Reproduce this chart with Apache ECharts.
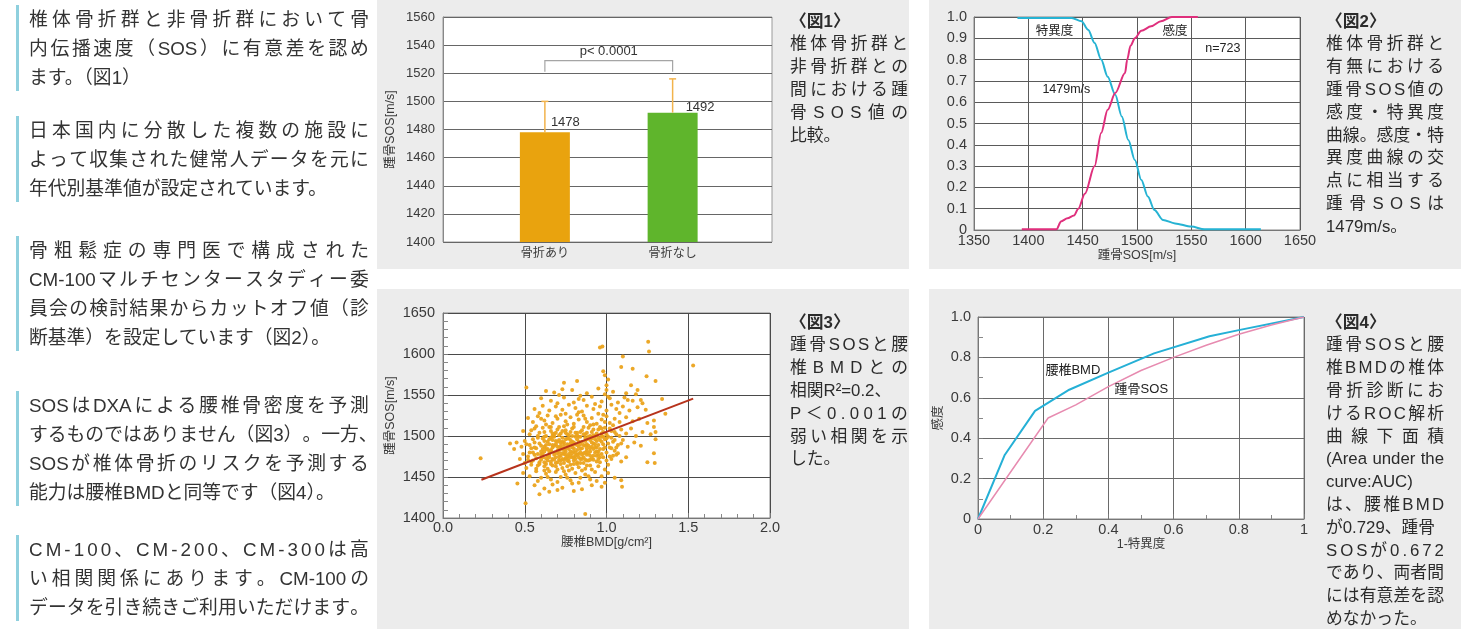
<!DOCTYPE html>
<html><head><meta charset="utf-8">
<script src="https://cdn.jsdelivr.net/npm/echarts@6/dist/echarts.min.js"></script>
<style>
html,body{margin:0;padding:0;width:1461px;height:629px;overflow:hidden;background:#fff;}
.panel{position:absolute;background:#ececec;}
#chart{position:absolute;left:0;top:0;width:1461px;height:629px;}
.ln{position:absolute;white-space:nowrap;font-family:'Liberation Sans','Noto Sans CJK JP',sans-serif;color:#333;}
.j{display:flex;justify-content:space-between;}
.j span{white-space:pre;}
.vbar{position:absolute;left:16px;width:3px;background:#8fd0de;}
</style></head><body>
<div class="panel" style="left:377px;top:0;width:532px;height:269px"></div>
<div class="panel" style="left:929px;top:0;width:532px;height:269px"></div>
<div class="panel" style="left:377px;top:289px;width:532px;height:340px"></div>
<div class="panel" style="left:929px;top:289px;width:532px;height:340px"></div>
<div id="chart"></div>
<div id="txt"></div>
<script>
// ---------- DATA ----------
const fig1Cats = ['骨折あり', '骨折なし'];
const fig1Means = [1478, 1492];
const fig1ErrTop = [1500, 1516];
const fig1Bracket = [1521, 1529];
const fig1PText = 'p< 0.0001';

const fig2SpecX = [1390,1440,1449,1455,1461,1467,1473,1480,1486,1492,1498,1504,1510,1516,1524,1535,1550,1562,1614];
const fig2SpecY = [0.995,0.995,0.98,0.94,0.878,0.80,0.72,0.635,0.533,0.423,0.329,0.235,0.157,0.094,0.047,0.031,0.016,0.003,0.003];
const fig2SensX = [1394,1426,1430,1436,1442,1446,1452,1461,1467,1473,1480,1489,1491,1494,1498,1504,1513,1522,1532,1556];
const fig2SensY = [0.003,0.003,0.04,0.055,0.068,0.10,0.17,0.30,0.455,0.564,0.643,0.737,0.80,0.865,0.90,0.935,0.956,0.98,1.0,1.0];
const fig2Notes = ['特異度', '感度', 'n=723', '1479m/s'];
const fig2NoteX = [1424, 1535, 1579, 1435];
const fig2NoteY = [0.932, 0.932, 0.854, 0.658];

const fig3Points = [
[0.23,1473],[0.41,1491],[0.435,1484],[0.455,1442],[0.51,1559],[0.505,1418],[0.59,1429],[0.96,1608],[0.975,1609],[1.255,1615],
[1.26,1603],[1.53,1586],[1.1,1597],[1.09,1584],[1.16,1582],[1.245,1573],[1.3,1567],[0.98,1579],[0.99,1574],[1.01,1569],
[0.82,1567],[0.74,1565],[0.73,1557],[1.09,1446],[1.095,1438],[0.97,1438],[0.87,1405],[0.7,1434],[1.25,1468],[1.295,1467],
[1.29,1479],[1.3,1496],[1.3,1505],[1.29,1511],[1.29,1519],[1.36,1527],[1.34,1545],[1.21,1544],[1.19,1556],[1.15,1562],
[1.13,1544],[0.83,1545],[1.0,1562],[1.0,1556],[0.99,1551],[1.01,1548],
[0.63,1555],[0.68,1553],[0.79,1556],[0.88,1552],[0.95,1558],[1.04,1554],[1.12,1552],[0.71,1550],[0.84,1549],[1.18,1551],
[0.6,1546],[0.66,1543],[0.74,1547],[0.8,1541],[0.86,1544],[0.91,1548],[0.97,1542],[1.02,1546],[1.07,1541],[1.11,1547],
[1.16,1543],[1.22,1540],[0.7,1540],[0.93,1539],
[0.56,1533],[0.61,1537],[0.65,1531],[0.69,1536],[0.73,1532],[0.77,1538],[0.81,1534],[0.85,1530],[0.88,1537],[0.92,1533],
[0.96,1536],[1.0,1531],[1.03,1538],[1.06,1533],[1.1,1536],[1.14,1531],[1.19,1535],[1.24,1532],[0.59,1528],[0.75,1527],
[0.83,1529],[0.98,1526],[1.08,1528],
[0.52,1522],[0.55,1517],[0.58,1524],[0.62,1519],[0.64,1525],[0.67,1516],[0.7,1521],[0.72,1526],[0.75,1518],[0.78,1523],
[0.8,1515],[0.83,1520],[0.86,1525],[0.88,1517],[0.91,1522],[0.94,1515],[0.97,1520],[1.0,1524],[1.02,1516],[1.05,1521],
[1.08,1517],[1.12,1523],[1.16,1518],[1.2,1521],[1.25,1516],[0.74,1512],[0.66,1511],
[0.49,1506],[0.53,1502],[0.56,1509],[0.59,1504],[0.61,1510],[0.63,1500],[0.66,1506],[0.68,1502],[0.7,1508],[0.72,1503],
[0.75,1507],[0.77,1501],[0.79,1509],[0.81,1504],[0.83,1499],[0.85,1507],[0.87,1502],[0.89,1510],[0.91,1505],[0.93,1500],
[0.95,1508],[0.97,1503],[0.99,1510],[1.01,1499],[1.03,1506],[1.06,1502],[1.09,1508],[1.12,1503],[1.15,1509],[1.18,1500],
[1.22,1505],[1.27,1502],[0.57,1512],
[0.45,1492],[0.48,1487],[0.5,1494],[0.53,1489],[0.55,1496],[0.57,1485],[0.59,1491],[0.61,1497],[0.62,1487],[0.64,1493],
[0.66,1498],[0.67,1486],[0.69,1490],[0.71,1495],[0.72,1484],[0.74,1492],[0.76,1497],[0.77,1488],[0.79,1493],[0.8,1485],
[0.82,1496],[0.84,1490],[0.85,1485],[0.87,1494],[0.89,1488],[0.91,1497],[0.92,1491],[0.94,1486],[0.96,1495],[0.98,1490],
[1.0,1497],[1.02,1486],[1.04,1493],[1.07,1489],[1.1,1495],[1.13,1487],[1.17,1492],[1.21,1488],[0.6,1481],[0.7,1482],
[0.78,1481],[0.88,1482],[0.95,1481],[1.05,1482],
[0.47,1472],[0.5,1467],[0.52,1475],[0.54,1469],[0.56,1477],[0.58,1464],[0.6,1471],[0.61,1478],[0.63,1466],[0.65,1474],
[0.66,1469],[0.68,1477],[0.69,1463],[0.71,1471],[0.72,1476],[0.74,1467],[0.75,1473],[0.77,1478],[0.78,1465],[0.8,1470],
[0.81,1476],[0.83,1462],[0.84,1472],[0.86,1467],[0.88,1477],[0.9,1464],[0.92,1471],[0.94,1476],[0.96,1468],[0.98,1474],
[1.01,1465],[1.03,1472],[1.06,1477],[1.09,1469],[1.12,1474],[0.73,1461],[0.64,1460],[0.87,1460],
[0.49,1455],[0.53,1451],[0.57,1457],[0.6,1449],[0.63,1454],[0.66,1447],[0.69,1456],[0.72,1450],[0.75,1453],[0.78,1446],
[0.81,1455],[0.84,1449],[0.87,1453],[0.9,1447],[0.93,1456],[0.97,1451],[1.01,1455],[1.05,1449],[0.62,1458],[0.77,1458],
[0.56,1440],[0.62,1436],[0.67,1441],[0.73,1437],[0.79,1442],[0.85,1435],[0.91,1440],[0.99,1443],[0.65,1432],[0.8,1433],
[0.6,1521],[0.69,1524],[0.76,1514],[0.82,1526],[0.9,1513],[0.95,1527],[1.04,1513],[0.63,1514],[0.87,1521],[0.99,1517],
[0.54,1507],[0.58,1500],[0.62,1505],[0.65,1511],[0.67,1500],[0.69,1504],[0.71,1511],[0.73,1506],[0.76,1502],[0.78,1505],
[0.8,1511],[0.82,1501],[0.84,1505],[0.86,1511],[0.88,1504],[0.9,1500],[0.92,1508],[0.94,1503],[0.96,1511],[0.98,1505],
[1.0,1502],[1.02,1509],[1.05,1505],[1.08,1500],
[0.51,1490],[0.54,1485],[0.56,1492],[0.58,1498],[0.6,1488],[0.62,1494],[0.63,1484],[0.65,1490],[0.67,1495],[0.68,1499],
[0.7,1487],[0.72,1492],[0.73,1498],[0.75,1485],[0.76,1490],[0.78,1495],[0.79,1486],[0.81,1490],[0.83,1493],[0.84,1499],
[0.86,1489],[0.88,1496],[0.9,1485],[0.91,1492],[0.93,1496],[0.95,1489],[0.97,1493],[0.99,1486],[1.01,1491],[1.03,1498],
[1.06,1486],[1.09,1491],[0.66,1483],[0.74,1489],[0.82,1483],[0.87,1498],
[0.49,1478],[0.52,1471],[0.55,1480],[0.57,1473],[0.59,1468],[0.61,1474],[0.62,1481],[0.64,1470],[0.65,1477],[0.67,1472],
[0.68,1480],[0.7,1468],[0.71,1475],[0.73,1479],[0.74,1471],[0.76,1475],[0.77,1469],[0.79,1479],[0.8,1474],[0.82,1468],
[0.83,1478],[0.85,1472],[0.87,1480],[0.89,1470],[0.9,1476],[0.93,1480],[0.95,1472],[0.97,1478],[1.0,1470],[1.04,1476],
[0.69,1474],[0.75,1481],[0.81,1472],
[0.51,1461],[0.54,1465],[0.57,1460],[0.59,1466],[0.62,1463],[0.65,1457],[0.67,1464],[0.7,1459],[0.72,1466],[0.74,1457],
[0.76,1463],[0.79,1460],[0.82,1466],[0.85,1458],[0.88,1464],[0.91,1459],[0.95,1463],[0.99,1459],
[0.58,1445],[0.64,1450],[0.7,1444],[0.76,1449],[0.83,1443],[0.89,1451],[0.94,1445],
[0.62,1468],[0.64,1476],[0.66,1482],[0.68,1471],[0.7,1479],[0.71,1486],[0.73,1472],[0.74,1483],[0.75,1496],[0.76,1470],
[0.77,1484],[0.78,1491],[0.79,1474],[0.8,1481],[0.81,1499],[0.82,1477],[0.83,1487],[0.84,1467],[0.85,1493],[0.86,1479],
[0.87,1488],[0.88,1470],[0.89,1499],[0.9,1481],[0.91,1487],[0.92,1476],[0.93,1490],[0.94,1469],[0.95,1498],[0.96,1484],
[0.63,1489],[0.65,1496],[0.67,1503],[0.69,1494],[0.71,1501],[0.72,1488],[0.73,1493],[0.75,1504],[0.77,1497],[0.79,1500],
[0.8,1492],[0.82,1504],[0.84,1484],[0.86,1502],[0.88,1490],[0.9,1495],[0.92,1501],[0.94,1494],[0.97,1499],[0.99,1496],
[0.6,1477],[0.62,1499],[0.64,1484],[0.66,1466],[0.68,1488],[0.7,1493],[0.72,1470],[0.74,1478],[0.76,1486],[0.78,1476],
[0.8,1466],[0.82,1489],[0.84,1480],[0.86,1474],[0.88,1485],[0.9,1471],[0.92,1484],[0.94,1481],[0.96,1474],[0.98,1484],
[0.61,1484],[0.63,1473],[0.65,1481],[0.67,1489],[0.69,1467],[0.71,1480],[0.73,1485],[0.75,1477],[0.77,1473],[0.79,1489],
[0.81,1480],[0.83,1474],[0.85,1477],[0.87,1471],[0.89,1479],[0.91,1473],[0.93,1486],[0.95,1477],[1.0,1480],[1.02,1475],
[0.58,1478],[0.56,1486],[0.55,1470],[0.53,1480],[0.98,1499],[1.03,1485],[1.05,1495],[1.07,1479],[0.97,1509],[0.92,1514]
];
const fig3RegX = [0.235, 1.53];
const fig3RegY = [1446.6, 1545.5];

const fig4BmdX = [0, 0.082, 0.175, 0.28, 0.4, 0.54, 0.71, 0.8, 1];
const fig4BmdY = [0, 0.317, 0.535, 0.64, 0.725, 0.82, 0.905, 0.935, 1];
const fig4SosX = [0, 0.215, 0.3, 0.4, 0.5, 0.6, 0.7, 0.8, 0.9, 1];
const fig4SosY = [0, 0.5, 0.565, 0.655, 0.735, 0.8, 0.86, 0.915, 0.96, 1];
const fig4Notes = ['腰椎BMD', '踵骨SOS'];
const fig4NoteX = [0.291, 0.501];
const fig4NoteY = [0.737, 0.643];

// ---------- TEXT ----------
const FF = "'Liberation Sans','Noto Sans CJK JP',sans-serif";
const leftParas = [
  {y:[19,48,77], lines:['椎体骨折群と非骨折群において骨','内伝播速度（SOS）に有意差を認め','ます。（図1）'], nj:[2], pc:[]},
  {y:[130,159,188], lines:['日本国内に分散した複数の施設に','よって収集された健常人データを元に','年代別基準値が設定されています。'], nj:[2], pc:[]},
  {y:[250,279,308,337], lines:['骨粗鬆症の専門医で構成された','CM-100マルチセンタースタディー委','員会の検討結果からカットオフ値（診','断基準）を設定しています（図2）。'], nj:[3], pc:[]},
  {y:[405,434,463,492], lines:['SOSはDXAによる腰椎骨密度を予測','するものではありません（図3）。一方、','SOSが椎体骨折のリスクを予測する','能力は腰椎BMDと同等です（図4）。'], nj:[3], pc:[]},
  {y:[549,578,607], lines:['CM-100、CM-200、CM-300は高','い相関関係にあります。CM-100の','データを引き続きご利用いただけます。'], nj:[], pc:[0]}
];
const captions = [
  {x:790, y0:22, lines:['〈図1〉','椎体骨折群と','非骨折群との','間における踵','骨SOS値の','比較。'], nj:[0,5]},
  {x:1326, y0:22, lines:['〈図2〉','椎体骨折群と','有無における','踵骨SOS値の','感度・特異度','曲線。感度・特','異度曲線の交','点に相当する','踵骨SOSは','1479m/s。'], nj:[0,9]},
  {x:790, y0:323, lines:['〈図3〉','踵骨SOSと腰','椎BMDとの','相関R²=0.2、','P＜0.001の','弱い相関を示','した。'], nj:[0,3,6]},
  {x:1326, y0:323, lines:['〈図4〉','踵骨SOSと腰','椎BMDの椎体','骨折診断にお','けるROC解析','曲線下面積','(Area under the','curve:AUC)','は、腰椎BMD','が0.729、踵骨','SOSが0.672','であり、両者間','には有意差を認','めなかった。'], nj:[0,7,9,13], narrow:[6,7]}
];

const txt = document.getElementById('txt');
const CJK = /[\u3000-\u30ff\u4e00-\u9fff\uff00-\uffef]/;
function tokens(t, perChar) {
  if (!CJK.test(t)) return t.split(/\s+/).filter(s => s);
  if (perChar) return Array.from(t);
  return t.match(/[A-Za-z0-9.\-=:²<>\/()]+|./g);
}
function addLine(x, cy, h, w, t, fs, just, extra, perChar) {
  const d = document.createElement('div');
  d.className = 'ln' + (just ? ' j' : '');
  d.style.left = x + 'px'; d.style.top = (cy - h / 2) + 'px';
  d.style.width = w + 'px'; d.style.height = h + 'px';
  d.style.lineHeight = h + 'px'; d.style.fontSize = fs + 'px';
  if (extra) Object.assign(d.style, extra);
  if (just) {
    tokens(t, perChar).forEach(tk => { const s = document.createElement('span'); s.textContent = tk; d.appendChild(s); });
  } else d.textContent = t;
  txt.appendChild(d);
}
leftParas.forEach(p => {
  const b = document.createElement('div');
  b.className = 'vbar';
  b.style.top = (p.y[0] - 14) + 'px';
  b.style.height = (p.y[p.y.length - 1] - p.y[0] + 28) + 'px';
  txt.appendChild(b);
  p.lines.forEach((t, i) => addLine(29, p.y[i], 29, 340, t, 18.8, !p.nj.includes(i), null, p.pc.includes(i)));
});
captions.forEach(c => {
  c.lines.forEach((t, i) => {
    const extra = {color:'#2b2b2b'};
    if (i === 0) extra.fontWeight = '700';
    if (c.narrow && c.narrow.includes(i)) { extra.fontFamily = "'Liberation Sans Narrow','Liberation Sans',sans-serif"; }
    addLine(c.x, c.y0 + i * 22.8, 22.8, 118, t, 16.8, !c.nj.includes(i), extra, true);
  });
});

// ---------- CHART ----------
const chart = echarts.init(document.getElementById('chart'), null, {renderer: 'canvas'});
const lblCol = '#3a3a3a';
const plain = v => String(v);
const gridLine = c => ({show: true, lineStyle: {color: c, width: 1}});
const zip = (a, b) => a.map((v, i) => [v, b[i]]);
const noteSeries = (xi, yi, names, xs, ys, fs) => ({
  type: 'custom', xAxisIndex: xi, yAxisIndex: yi, silent: true, z: 5,
  data: names.map((n, i) => [xs[i], ys[i]]),
  renderItem: (params, api) => {
    const p = api.coord([api.value(0), api.value(1)]);
    return {type: 'text', x: p[0], y: p[1], style: {text: names[params.dataIndex], fill: '#222', font: fs + 'px ' + FF, align: 'center', verticalAlign: 'middle'}};
  }
});

const option = {
  animation: false,
  textStyle: {fontFamily: FF},
  grid: [
    {left: 443, top: 17, width: 329, height: 225, show: true, backgroundColor: '#fff', borderColor: '#9a9a9a', borderWidth: 1},
    {left: 481, top: 17, width: 255.5, height: 225},
    {left: 974, top: 17, width: 326, height: 213, show: true, backgroundColor: '#fff', borderColor: '#888', borderWidth: 1},
    {left: 443, top: 313, width: 327, height: 205, show: true, backgroundColor: '#fff', borderColor: '#888', borderWidth: 1},
    {left: 978, top: 317, width: 326, height: 202, show: true, backgroundColor: '#fff', borderColor: '#888', borderWidth: 1}
  ],
  xAxis: [
    {gridIndex: 0, type: 'value', min: 0, max: 1, show: false},
    {gridIndex: 1, type: 'category', data: fig1Cats, axisLine: {show: false}, axisTick: {show: false},
      axisLabel: {color: lblCol, fontSize: 12, margin: 6, fontFamily: FF}},
    {gridIndex: 2, type: 'value', min: 1350, max: 1650, interval: 50,
      axisLine: {lineStyle: {color: '#777'}}, axisTick: {show: false}, splitLine: gridLine('#5a5a5a'),
      axisLabel: {color: lblCol, fontSize: 14.5, margin: 4, fontFamily: FF, formatter: plain},
      name: '踵骨SOS[m/s]', nameLocation: 'middle', nameGap: 17, nameTextStyle: {color: lblCol, fontSize: 12.5, fontFamily: FF}},
    {gridIndex: 3, type: 'value', min: 0, max: 2, interval: 0.5,
      axisLine: {lineStyle: {color: '#777'}}, axisTick: {show: true, inside: true, length: 5, lineStyle: {color: '#777'}},
      minorTick: {show: true, splitNumber: 5, length: 4, lineStyle: {color: '#888'}},
      splitLine: gridLine('#4a4a4a'),
      axisLabel: {color: lblCol, fontSize: 14.5, margin: 3, fontFamily: FF, formatter: v => v.toFixed(1)},
      name: '腰椎BMD[g/cm²]', nameLocation: 'middle', nameGap: 14, nameTextStyle: {color: lblCol, fontSize: 12.5, fontFamily: FF}},
    {gridIndex: 4, type: 'value', min: 0, max: 1, interval: 0.2,
      axisLine: {lineStyle: {color: '#777'}}, axisTick: {show: true, inside: true, length: 5, lineStyle: {color: '#777'}},
      minorTick: {show: true, splitNumber: 2, length: 4, lineStyle: {color: '#888'}},
      splitLine: gridLine('#6a6a6a'),
      axisLabel: {color: lblCol, fontSize: 14.5, margin: 4, fontFamily: FF, formatter: v => v === 0 ? '0' : (v === 1 ? '1' : v.toFixed(1))},
      name: '1-特異度', nameLocation: 'middle', nameGap: 15, nameTextStyle: {color: lblCol, fontSize: 12.5, fontFamily: FF}}
  ],
  yAxis: [
    {gridIndex: 0, type: 'value', min: 1400, max: 1560, interval: 20,
      axisLine: {show: true, lineStyle: {color: '#888'}}, axisTick: {show: false}, splitLine: gridLine('#666'),
      axisLabel: {color: lblCol, fontSize: 13, margin: 8, fontFamily: FF, formatter: plain},
      name: '踵骨SOS[m/s]', nameLocation: 'middle', nameRotate: 90, nameGap: 46, nameTextStyle: {color: lblCol, fontSize: 12.5, fontFamily: FF}},
    {gridIndex: 1, type: 'value', min: 1400, max: 1560, show: false, splitLine: {show: false}},
    {gridIndex: 2, type: 'value', min: 0, max: 1, interval: 0.1,
      axisLine: {show: true, lineStyle: {color: '#777'}}, axisTick: {show: false}, splitLine: gridLine('#5a5a5a'),
      axisLabel: {color: lblCol, fontSize: 14.5, margin: 7, fontFamily: FF, formatter: v => v === 0 ? '0' : v.toFixed(1)}},
    {gridIndex: 3, type: 'value', min: 1400, max: 1650, interval: 50,
      axisLine: {show: true, lineStyle: {color: '#777'}}, axisTick: {show: true, inside: true, length: 5, lineStyle: {color: '#777'}},
      minorTick: {show: true, splitNumber: 5, length: 5, lineStyle: {color: '#888'}},
      splitLine: gridLine('#4a4a4a'),
      axisLabel: {color: lblCol, fontSize: 14.5, margin: 8, fontFamily: FF, formatter: plain},
      name: '踵骨SOS[m/s]', nameLocation: 'middle', nameRotate: 90, nameGap: 46, nameTextStyle: {color: lblCol, fontSize: 12.5, fontFamily: FF}},
    {gridIndex: 4, type: 'value', min: 0, max: 1, interval: 0.2,
      axisLine: {show: true, lineStyle: {color: '#777'}}, axisTick: {show: true, inside: true, length: 5, lineStyle: {color: '#777'}},
      minorTick: {show: true, splitNumber: 2, length: 5, lineStyle: {color: '#888'}},
      splitLine: gridLine('#6a6a6a'),
      axisLabel: {color: lblCol, fontSize: 14.5, margin: 7, fontFamily: FF, formatter: v => v === 0 ? '0' : v.toFixed(1)},
      name: '感度', nameLocation: 'middle', nameRotate: 90, nameGap: 33, nameTextStyle: {color: lblCol, fontSize: 12.5, fontFamily: FF}}
  ],
  series: [
    {type: 'bar', xAxisIndex: 1, yAxisIndex: 1, barWidth: 50, z: 2,
      data: fig1Means.map((v, i) => ({value: v,
        itemStyle: {color: ['#e9a30e', '#5fb52c'][i]},
        label: {offset: [[6, -1], [13, 3]][i]}})),
      label: {show: true, position: 'top', align: 'left', distance: 2, color: '#333', fontSize: 13, fontFamily: FF}},
    {type: 'custom', xAxisIndex: 1, yAxisIndex: 1, z: 3, silent: true,
      data: fig1Means.map((m, i) => [i, m, fig1ErrTop[i]]),
      renderItem: (params, api) => {
        const a = api.coord([api.value(0), api.value(1)]);
        const b = api.coord([api.value(0), api.value(2)]);
        const st = {stroke: '#f2b34c', lineWidth: 1.5};
        return {type: 'group', children: [
          {type: 'line', shape: {x1: a[0], y1: a[1], x2: b[0], y2: b[1]}, style: st},
          {type: 'line', shape: {x1: b[0] - 3.5, y1: b[1], x2: b[0] + 3.5, y2: b[1]}, style: st}
        ]};
      }},
    {type: 'custom', xAxisIndex: 1, yAxisIndex: 1, z: 3, silent: true,
      data: [[0, 1, fig1Bracket[0], fig1Bracket[1]]],
      renderItem: (params, api) => {
        const a = api.coord([api.value(0), api.value(2)]);
        const b = api.coord([api.value(0), api.value(3)]);
        const c = api.coord([api.value(1), api.value(3)]);
        const d = api.coord([api.value(1), api.value(2)]);
        return {type: 'group', children: [
          {type: 'polyline', shape: {points: [a, b, c, d]}, style: {stroke: '#a5a5a5', lineWidth: 1.2, fill: null}},
          {type: 'text', x: (b[0] + c[0]) / 2, y: b[1] - 9, style: {text: fig1PText, fill: '#333', font: '13px ' + FF, align: 'center', verticalAlign: 'middle'}}
        ]};
      }},
    {type: 'line', xAxisIndex: 2, yAxisIndex: 2, data: zip(fig2SpecX, fig2SpecY), symbol: 'none', smooth: 0.3, smoothMonotone: 'x',
      lineStyle: {color: '#26b3d3', width: 2}},
    {type: 'line', xAxisIndex: 2, yAxisIndex: 2, data: zip(fig2SensX, fig2SensY), symbol: 'none', smooth: 0.3, smoothMonotone: 'x',
      lineStyle: {color: '#df2f7c', width: 2}},
    noteSeries(2, 2, fig2Notes, fig2NoteX, fig2NoteY, 12.5),
    {type: 'scatter', xAxisIndex: 3, yAxisIndex: 3, data: fig3Points, symbolSize: 4, silent: true,
      itemStyle: {color: '#eba31c', opacity: 0.95}},
    {type: 'line', xAxisIndex: 3, yAxisIndex: 3, data: zip(fig3RegX, fig3RegY), symbol: 'none', z: 4,
      lineStyle: {color: '#b7331c', width: 2}},
    {type: 'line', xAxisIndex: 4, yAxisIndex: 4, data: zip(fig4BmdX, fig4BmdY), symbol: 'none',
      lineStyle: {color: '#25b0d6', width: 2}},
    {type: 'line', xAxisIndex: 4, yAxisIndex: 4, data: zip(fig4SosX, fig4SosY), symbol: 'none',
      lineStyle: {color: '#e78bb0', width: 1.5}},
    noteSeries(4, 4, fig4Notes, fig4NoteX, fig4NoteY, 13)
  ]
};
chart.setOption(option);
</script>
</body></html>
